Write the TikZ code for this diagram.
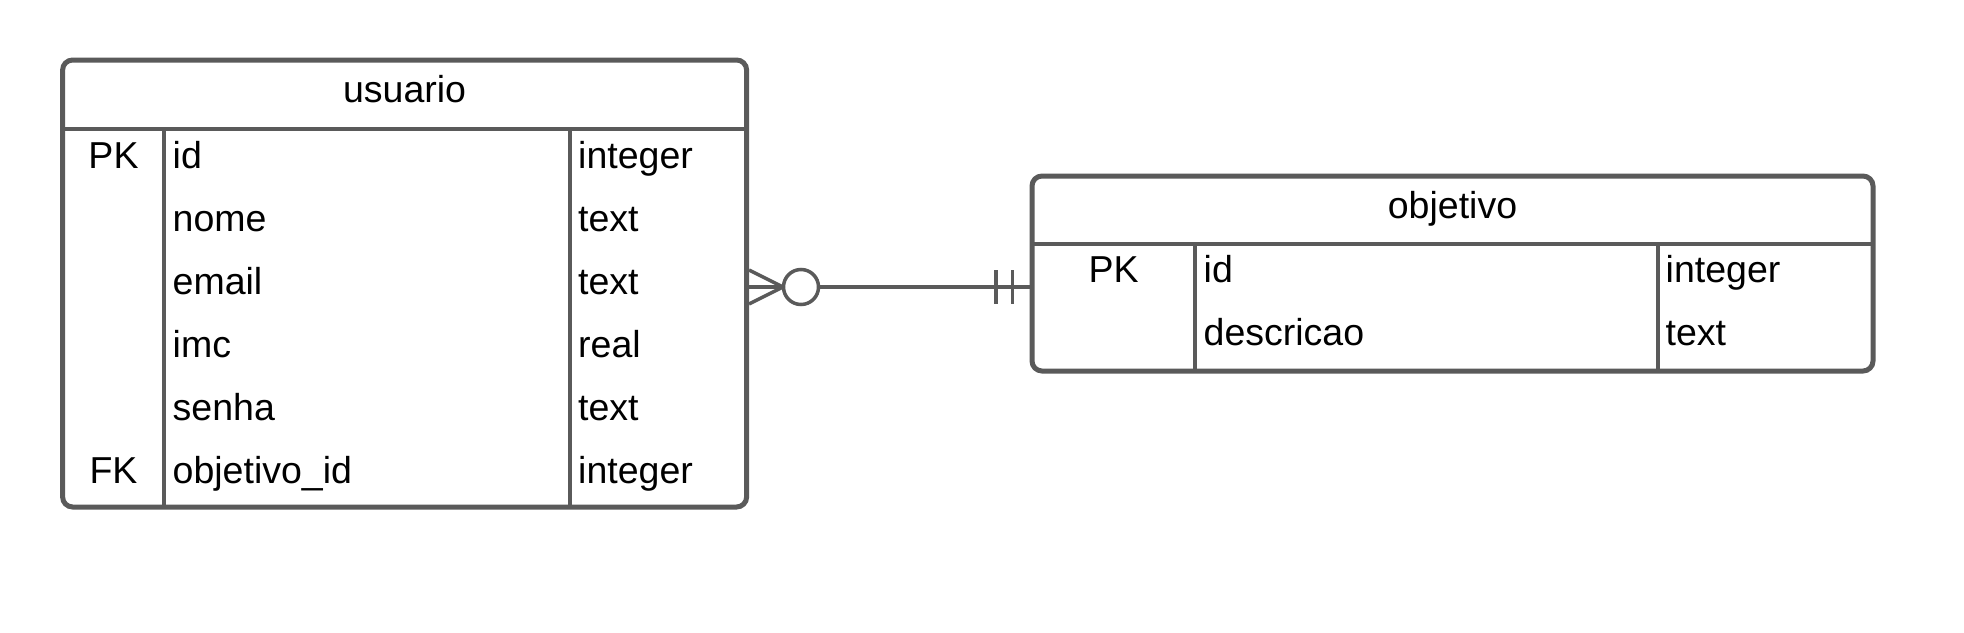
\documentclass[tikz,border=0pt]{standalone}
\usepackage{fontspec}
\setmainfont{Liberation Sans}
\begin{document}
\begin{tikzpicture}[x=1pt,y=-1pt,
  tbl/.style={draw=linegray, line width=5pt, rounded corners=10pt, inner sep=0pt, outer sep=0pt, anchor=north west},
  sep/.style={draw=linegray, line width=4.5pt},
  conn/.style={draw=linegray, line width=3.5pt},
  txt/.style={inner sep=0pt, anchor=base west, font=\fontsize{37.5}{44}\selectfont},
  keytxt/.style={inner sep=0pt, anchor=base, font=\fontsize{37.5}{44}\selectfont},
]
\definecolor{linegray}{HTML}{5A5A5A}
\useasboundingbox (0,0) rectangle (1964,632);
\fill[white] (0,0) rectangle (1964,632);

% usuario table
\node[tbl, minimum width=684pt, minimum height=447pt] (usu) at (62.6,60) {};
\coordinate (uh) at (0,129);
\draw[sep] (usu.west |- uh) -- (usu.east |- uh);
\draw[sep] (164,129) -- (164,507);
\draw[sep] (570,129) -- (570,507);
\node[keytxt] (uhead) at (404.6,102) {usuario};
\node[keytxt] (uk1) at (113.5,168) {PK};
\node[txt] (un1) at (172.5,168) {id};
\node[txt] (ut1) at (578,168) {integer};
\node[txt] (un2) at (172.5,231) {nome};
\node[txt] (ut2) at (578,231) {text};
\node[txt] (un3) at (172.5,294) {email};
\node[txt] (ut3) at (578,294) {text};
\node[txt] (un4) at (172.5,357) {imc};
\node[txt] (ut4) at (578,357) {real};
\node[txt] (un5) at (172.5,420) {senha};
\node[txt] (ut5) at (578,420) {text};
\node[keytxt] (uk6) at (113.5,483) {FK};
\node[txt] (un6) at (172.5,483) {objetivo\_id};
\node[txt] (ut6) at (578,483) {integer};

% objetivo table
\node[tbl, minimum width=841pt, minimum height=195pt] (obj) at (1032,176) {};
\coordinate (oh) at (0,244);
\draw[sep] (obj.west |- oh) -- (obj.east |- oh);
\draw[sep] (1195,244) -- (1195,371);
\draw[sep] (1658,244) -- (1658,371);
\node[keytxt] (ohead) at (1452.5,218) {objetivo};
\node[keytxt] (ok1) at (1113.5,282) {PK};
\node[txt] (on1) at (1203.5,282) {id};
\node[txt] (ot1) at (1665.5,282) {integer};
\node[txt] (on2) at (1203.5,345.5) {descricao};
\node[txt] (ot2) at (1665.5,345.5) {text};

% relationship
\coordinate (cy) at (0,287);
\coordinate (tip) at (783,287);
\node[circle, draw=linegray, line width=3.5pt, minimum size=35pt, inner sep=0pt] (ring) at (801,287) {};
\draw[conn] (749,270) -- (tip);
\draw[conn] (usu.east |- cy) -- (tip);
\draw[conn] (749,304) -- (tip);
\draw[conn] (ring.east) -- (obj.west |- cy);
\draw[conn] (996,270) -- (996,304);
\draw[conn] (1012.5,270) -- (1012.5,304);
\end{tikzpicture}
\end{document}
